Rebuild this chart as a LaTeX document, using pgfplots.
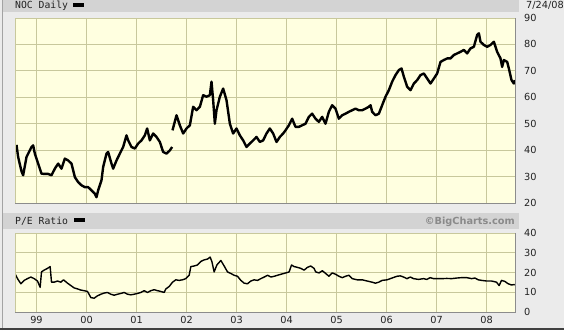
\documentclass[border=0pt]{standalone}
\usepackage{fontspec}
\setmainfont{DejaVu Sans}
\newfontfamily\monofont{DejaVu Sans Mono}
\usepackage{pgfplots}
\pgfplotsset{compat=1.18}
\definecolor{bgc}{HTML}{EBEBEB}
\definecolor{hdr}{HTML}{D3D3D3}
\definecolor{plotbg}{HTML}{FFFFE0}
\definecolor{gridc}{HTML}{C8C89C}
\definecolor{framec}{HTML}{8C8C8C}
\definecolor{txt}{HTML}{222222}
\definecolor{bcgray}{HTML}{8A8A8A}

\pgfplotsset{
  panel/.style={
    scale only axis, width=500bp,
    xmin=1998.57, xmax=2008.57,
    xtick={1999,2000,2001,2002,2003,2004,2005,2006,2007,2008},
    grid=major, major grid style={gridc, line width=0.8bp},
    major tick length=0pt,
    axis background/.style={fill=plotbg},
    yticklabel pos=right,
    /pgf/number format/assume math mode=true,
    tick label style={font=\fontsize{9.8}{10}\selectfont, text=txt},
    yticklabel style={anchor=west, inner sep=0pt, xshift=9bp},
    xticklabel style={anchor=north, inner sep=0pt, yshift=-4.5bp},
    axis line style={draw=none},
    clip=true,
  }
}

\begin{document}
\begin{tikzpicture}[x=1bp,y=1bp]
\useasboundingbox (0,0) rectangle (564,330);
\fill[bgc] (0,0) rectangle (564,330);
\fill[hdr] (3,318) rectangle (519,330);
\fill[hdr] (3,101.5) rectangle (519,117.5);
\draw[color=framec!80, line width=0.8bp] (2.5,0) -- (2.5,330);
\fill[black!75] (0,0) rectangle (564,2);

% header texts
\node[anchor=base west, inner sep=0pt, text=txt] at (15,321.8) {\monofont\fontsize{9.8}{10}\selectfont NOC Daily};
\fill[black] (73,323.3) rectangle (84,326.5);
\node[anchor=base east, inner sep=0pt, text=txt] at (564,321.8) {\fontsize{9.8}{10}\selectfont 7/24/08};
\node[anchor=base west, inner sep=0pt, text=txt] at (15,106) {\monofont\fontsize{9.8}{10}\selectfont P/E Ratio};
\fill[black] (74,108.3) rectangle (85,111.6);
\node[anchor=base east, inner sep=0pt, text=bcgray] at (515,106) {\bfseries\fontsize{9.8}{10}\selectfont ©BigCharts.com};

% ---------- price panel ----------
\begin{axis}[panel, at={(15bp,127bp)}, anchor=south west, height=185bp,
  ymin=20, ymax=90, ytick={20,30,40,50,60,70,80,90},
  xticklabels={}]
\addplot[black, line width=2.4bp, line join=round] coordinates {
(1998.60,42.0)(1998.633,37.4)(1998.70,32.0)(1998.733,30.5)(1998.80,37.4)
(1998.90,41.2)(1998.933,41.8)(1998.967,38.7)(1999.033,34.9)(1999.10,31.1)
(1999.167,31.0)(1999.233,31.0)(1999.30,30.5)(1999.367,33.0)(1999.433,34.9)
(1999.50,33.0)(1999.567,36.8)(1999.633,36.1)(1999.70,34.9)(1999.767,29.8)
(1999.833,27.9)(1999.90,26.7)(1999.967,26.0)(2000.033,26.0)(2000.10,24.8)
(2000.167,23.5)(2000.20,22.2)(2000.233,24.8)(2000.30,28.6)(2000.333,33.6)
(2000.40,38.7)(2000.433,39.3)(2000.50,34.9)(2000.533,33.0)(2000.60,36.1)
(2000.667,38.7)(2000.733,41.2)(2000.80,45.6)(2000.833,43.7)(2000.90,41.2)
(2000.967,40.6)(2001.033,42.5)(2001.10,43.7)(2001.167,45.6)(2001.213,48.2)
(2001.267,43.7)(2001.333,46.3)(2001.40,45.0)(2001.467,43.1)(2001.533,39.3)
(2001.60,38.7)(2001.667,39.9)(2001.713,41.2)
};
\addplot[black, line width=2.4bp, line join=round] coordinates {
(2001.72,47.5)(2001.80,53.2)(2001.867,49.4)(2001.933,46.3)(2002.00,48.2)
(2002.067,49.4)(2002.133,56.4)(2002.20,55.1)(2002.267,56.4)(2002.333,60.8)
(2002.40,60.2)(2002.467,60.8)(2002.50,65.9)(2002.533,58.9)(2002.567,50.0)
(2002.60,55.1)(2002.667,60.2)(2002.733,63.3)(2002.80,58.9)(2002.867,50.0)
(2002.933,46.3)(2003.00,48.2)(2003.067,45.6)(2003.133,43.7)(2003.20,41.2)
(2003.267,42.5)(2003.333,43.7)(2003.40,45.0)(2003.467,43.1)(2003.533,43.7)
(2003.60,46.3)(2003.667,48.2)(2003.733,46.3)(2003.80,43.1)(2003.867,45.0)
(2003.933,46.3)(2003.98,47.5)(2004.047,49.4)(2004.113,51.9)(2004.18,48.8)
(2004.247,48.8)(2004.313,49.4)(2004.38,50.0)(2004.447,52.6)(2004.513,53.8)
(2004.58,51.9)(2004.647,50.7)(2004.713,52.6)(2004.78,50.0)(2004.847,54.5)
(2004.913,57.0)(2004.98,55.7)(2005.047,51.9)(2005.113,53.2)(2005.18,53.8)
(2005.247,54.5)(2005.313,55.1)(2005.38,55.7)(2005.447,55.1)(2005.513,55.1)
(2005.58,55.7)(2005.647,56.4)(2005.68,57.0)(2005.713,54.5)(2005.78,53.2)
(2005.847,53.8)(2005.913,57.0)(2005.98,60.2)(2006.047,62.7)(2006.113,65.9)
(2006.18,68.4)(2006.247,70.3)(2006.30,70.9)(2006.347,67.8)(2006.413,64.0)
(2006.48,62.7)(2006.547,65.2)(2006.613,66.5)(2006.68,68.4)(2006.747,69.0)
(2006.813,67.1)(2006.88,65.2)(2006.947,67.1)(2007.013,69.0)(2007.08,73.4)
(2007.147,74.1)(2007.213,74.7)(2007.28,74.7)(2007.347,76.0)(2007.413,76.6)
(2007.48,77.2)(2007.547,77.9)(2007.613,76.6)(2007.68,78.5)(2007.747,79.1)
(2007.813,83.6)(2007.847,84.2)(2007.88,81.0)(2007.947,79.8)(2008.013,79.1)
(2008.08,79.8)(2008.147,81.0)(2008.213,77.2)(2008.28,74.7)(2008.313,71.5)
(2008.347,74.1)(2008.413,73.4)(2008.447,70.9)(2008.50,66.5)(2008.547,65.2)
(2008.567,66.5)
};
\end{axis}
\draw[gridc, line width=0.8bp] (15,127) -- (15,312) -- (515,312);
\draw[framec, line width=0.9bp] (15,127) -- (515.5,127) -- (515.5,312);

% ---------- P/E panel ----------
\begin{axis}[panel, at={(15bp,18bp)}, anchor=south west, height=79bp,
  ymin=0, ymax=40, ytick={0,10,20,30,40},
  xticklabels={99,00,01,02,03,04,05,06,07,08}]
\addplot[black, line width=1.4bp, line join=round] coordinates {
(1998.567,19.5)(1998.62,16.9)(1998.687,14.3)(1998.753,16.0)(1998.82,16.9)
(1998.887,17.7)(1998.953,16.9)(1999.02,15.7)(1999.073,12.5)(1999.10,20.3)
(1999.153,21.2)(1999.22,22.1)(1999.273,23.0)(1999.30,15.1)(1999.353,15.1)
(1999.42,15.7)(1999.487,15.1)(1999.54,16.3)(1999.62,14.6)(1999.687,13.4)
(1999.753,12.2)(1999.82,11.7)(1999.887,11.1)(1999.953,10.8)(2000.02,10.4)
(2000.087,7.3)(2000.153,7.0)(2000.22,8.2)(2000.287,9.0)(2000.353,9.6)
(2000.42,9.9)(2000.487,9.0)(2000.553,8.5)(2000.62,9.0)(2000.687,9.4)
(2000.753,9.9)(2000.82,9.0)(2000.887,8.7)(2000.953,9.0)(2001.02,9.4)
(2001.087,9.9)(2001.153,10.8)(2001.22,9.9)(2001.287,10.8)(2001.353,11.3)
(2001.42,10.8)(2001.487,10.4)(2001.553,9.9)(2001.587,11.7)(2001.653,12.9)
(2001.72,15.1)(2001.787,16.3)(2001.853,16.0)(2001.92,16.3)(2001.987,16.9)
(2002.053,18.6)(2002.087,23.0)(2002.153,23.3)(2002.22,23.8)(2002.287,25.6)
(2002.353,26.4)(2002.42,26.8)(2002.473,27.8)(2002.507,25.6)(2002.553,20.3)
(2002.607,23.8)(2002.687,26.1)(2002.753,23.3)(2002.82,20.3)(2002.887,19.5)
(2002.953,18.6)(2003.02,18.1)(2003.087,16.0)(2003.153,14.6)(2003.22,14.3)
(2003.287,15.7)(2003.353,16.3)(2003.42,16.0)(2003.487,16.9)(2003.553,17.7)
(2003.622,18.6)(2003.688,17.7)(2003.754,18.1)(2003.82,18.6)(2003.887,19.1)
(2003.987,19.8)(2004.053,20.3)(2004.10,23.8)(2004.153,23.0)(2004.219,22.6)
(2004.285,22.1)(2004.352,21.2)(2004.418,22.6)(2004.484,23.3)(2004.551,22.1)
(2004.584,20.3)(2004.65,19.8)(2004.717,20.9)(2004.783,19.5)(2004.849,18.1)
(2004.916,19.8)(2004.982,19.1)(2005.048,18.1)(2005.115,17.4)(2005.181,18.1)
(2005.248,18.6)(2005.314,16.9)(2005.413,16.3)(2005.513,16.3)(2005.612,15.7)
(2005.712,15.1)(2005.778,14.6)(2005.845,15.1)(2005.911,16.0)(2006.011,16.3)
(2006.11,17.2)(2006.21,18.1)(2006.276,18.3)(2006.342,17.7)(2006.409,16.9)
(2006.475,17.7)(2006.541,16.9)(2006.641,16.5)(2006.741,16.9)(2006.807,16.5)
(2006.873,17.4)(2006.94,16.9)(2007.006,16.9)(2007.106,16.9)(2007.205,17.0)
(2007.305,16.9)(2007.404,17.2)(2007.504,17.4)(2007.603,17.4)(2007.703,16.9)
(2007.769,17.2)(2007.835,16.3)(2007.902,16.0)(2008.001,15.7)(2008.101,15.7)
(2008.20,15.1)(2008.253,13.4)(2008.30,16.0)(2008.366,15.5)(2008.433,14.3)
(2008.499,13.7)(2008.565,13.9)
};
\end{axis}
\draw[gridc, line width=0.8bp] (15,18) -- (15,97) -- (515,97);
\draw[framec, line width=0.9bp] (15,18) -- (515.5,18) -- (515.5,97);
\end{tikzpicture}
\end{document}
